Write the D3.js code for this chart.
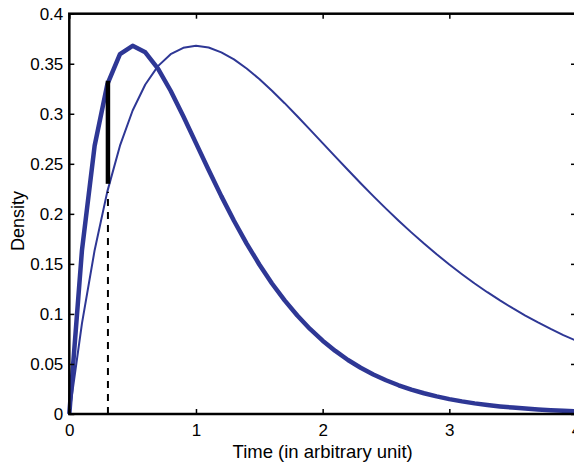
<!DOCTYPE html>
<html>
<head>
<meta charset="utf-8">
<script src="https://cdn.jsdelivr.net/npm/d3@7"></script>
<style>
  body { margin: 0; background: #fff; }
  text { font-family: "Liberation Sans", Arial, Helvetica, sans-serif; }
</style>
</head>
<body>
<div id="chart"></div>
<script>
// sample times (arbitrary unit)
var time = [0, 0.1, 0.2, 0.3, 0.4, 0.5, 0.6, 0.7, 0.8, 0.9,
            1.0, 1.1, 1.2, 1.3, 1.4, 1.5, 1.6, 1.7, 1.8, 1.9,
            2.0, 2.1, 2.2, 2.3, 2.4, 2.5, 2.6, 2.7, 2.8, 2.9,
            3.0, 3.1, 3.2, 3.3, 3.4, 3.5, 3.6, 3.7, 3.8, 3.9, 4.0];

// thick curve (early peak)
var densityFast = [0, 0.1637, 0.2681, 0.3293, 0.3595, 0.3679, 0.3614, 0.3452, 0.3230, 0.2975,
                   0.2707, 0.2438, 0.2177, 0.1931, 0.1703, 0.1494, 0.1304, 0.1135, 0.0984, 0.0850,
                   0.0733, 0.0630, 0.0540, 0.0462, 0.0395, 0.0337, 0.0287, 0.0244, 0.0207, 0.0176,
                   0.0149, 0.0126, 0.0106, 0.0090, 0.0076, 0.0064, 0.0054, 0.0045, 0.0038, 0.0032, 0.0027];

// thin curve (late peak)
var densitySlow = [0, 0.0905, 0.1637, 0.2222, 0.2681, 0.3033, 0.3293, 0.3476, 0.3595, 0.3659,
                   0.3679, 0.3662, 0.3614, 0.3543, 0.3452, 0.3347, 0.3230, 0.3106, 0.2975, 0.2842,
                   0.2707, 0.2572, 0.2438, 0.2306, 0.2177, 0.2052, 0.1931, 0.1815, 0.1703, 0.1596,
                   0.1494, 0.1397, 0.1304, 0.1217, 0.1135, 0.1057, 0.0984, 0.0915, 0.0850, 0.0789, 0.0733];

// marker at t = 0.3: gap between the two curves
var markTime = 0.305;
var markGap = [0.230, 0.333];
var markDash = [0, 0.222];

var xTicks = [0, 1, 2, 3, 4];
var yTicks = [0, 0.05, 0.1, 0.15, 0.2, 0.25, 0.3, 0.35, 0.4];

var W = 574, H = 463;
var m = { left: 69.3, right: 576, top: 13.7, bottom: 414 };
var blue = '#2e3795';

var x = d3.scaleLinear().domain([0, 4]).range([m.left, m.right]);
var y = d3.scaleLinear().domain([0, 0.4]).range([m.bottom, m.top]);

var svg = d3.select('#chart').append('svg')
    .attr('width', W)
    .attr('height', H);

// curves
var line = d3.line()
    .x(function(d) { return x(d[0]); })
    .y(function(d) { return y(d[1]); });

svg.append('path')
    .datum(d3.zip(time, densitySlow))
    .attr('d', line)
    .attr('fill', 'none')
    .attr('stroke', blue)
    .attr('stroke-width', 2)
    .attr('stroke-linejoin', 'round');

svg.append('path')
    .datum(d3.zip(time, densityFast))
    .attr('d', line)
    .attr('fill', 'none')
    .attr('stroke', blue)
    .attr('stroke-width', 4.5)
    .attr('stroke-linejoin', 'round');

// marker lines
svg.append('line')
    .attr('x1', x(markTime)).attr('x2', x(markTime))
    .attr('y1', y(markDash[0])).attr('y2', y(markDash[1]))
    .attr('stroke', '#000')
    .attr('stroke-width', 2)
    .attr('stroke-dasharray', '7,6');

svg.append('line')
    .attr('x1', x(markTime)).attr('x2', x(markTime))
    .attr('y1', y(markGap[0])).attr('y2', y(markGap[1]))
    .attr('stroke', '#000')
    .attr('stroke-width', 4.5);

// axes (ticks inward, box drawn separately)
var fs = '17px';
var xAxis = svg.append('g')
    .attr('transform', 'translate(0,' + m.bottom + ')')
    .call(d3.axisBottom(x).tickValues(xTicks).tickFormat(d3.format('d'))
          .tickSizeInner(-5).tickSizeOuter(0).tickPadding(6));
var yAxis = svg.append('g')
    .attr('transform', 'translate(' + m.left + ',0)')
    .call(d3.axisLeft(y).tickValues(yTicks).tickFormat(function(d) { return String(+d.toFixed(2)); })
          .tickSizeInner(-5).tickSizeOuter(0).tickPadding(6));
var xTop = svg.append('g')
    .attr('transform', 'translate(0,' + m.top + ')')
    .call(d3.axisTop(x).tickValues(xTicks).tickFormat('').tickSizeInner(-5).tickSizeOuter(0));
var yRight = svg.append('g')
    .attr('transform', 'translate(' + m.right + ',0)')
    .call(d3.axisRight(y).tickValues(yTicks).tickFormat('').tickSizeInner(-5).tickSizeOuter(0));

[xAxis, yAxis, xTop, yRight].forEach(function(g) {
  g.select('.domain').remove();
  g.selectAll('.tick line').attr('stroke', '#000').attr('stroke-width', 1.5);
  g.selectAll('.tick text').attr('fill', '#000').style('font-size', fs);
});
xAxis.selectAll('.tick text').attr('dy', '0.95em');

svg.append('rect')
    .attr('x', m.left).attr('y', m.top)
    .attr('width', m.right - m.left).attr('height', m.bottom - m.top)
    .attr('fill', 'none')
    .attr('stroke', '#000')
    .attr('stroke-width', 2.5);

// axis labels
svg.append('text')
    .attr('x', (m.left + m.right) / 2)
    .attr('y', 457.5)
    .attr('text-anchor', 'middle')
    .style('font-size', '18.5px')
    .text('Time (in arbitrary unit)');

svg.append('text')
    .attr('transform', 'translate(24,' + 221 + ') rotate(-90)')
    .attr('text-anchor', 'middle')
    .style('font-size', '18px')
    .text('Density');
</script>
</body>
</html>
